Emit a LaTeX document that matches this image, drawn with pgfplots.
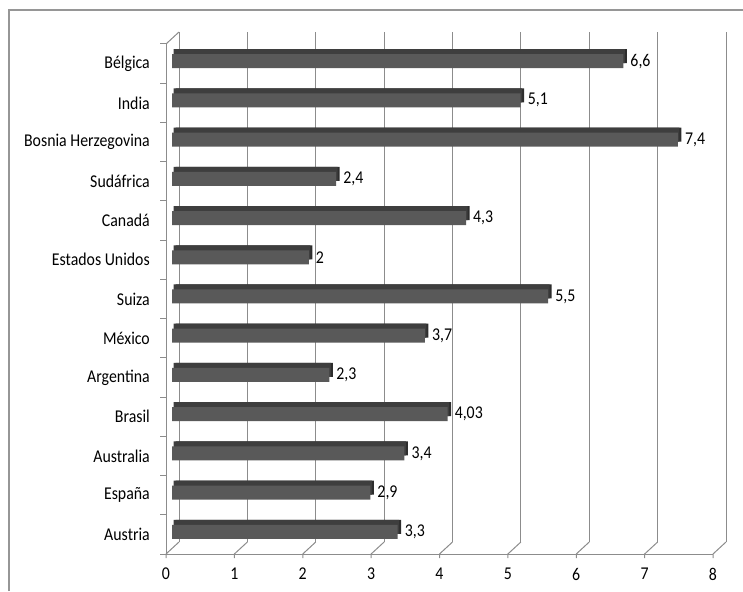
\documentclass[border=0pt]{standalone}
\usepackage{pgfplots}
\pgfplotsset{compat=1.18}
\usepackage{fontspec}
\setmainfont{Carlito}[FakeStretch=0.88]
\definecolor{gridc}{RGB}{140,140,140}
\definecolor{framec}{RGB}{150,150,150}
\definecolor{barf}{RGB}{89,89,89}
\definecolor{bard}{RGB}{62,62,62}
\definecolor{bare}{RGB}{45,45,45}
\newcommand{\lblfont}{\fontsize{18pt}{21pt}\selectfont}
\begin{document}
\begin{tikzpicture}[font=\lblfont]
\useasboundingbox (0,0) rectangle (743pt,591pt);
\draw[framec, line width=1.2pt] (9pt,0pt) -- (9pt,581pt) -- (743pt,581pt);
\begin{axis}[
  at={(179pt,49pt)}, anchor=south west,
  scale only axis, width=547pt, height=510pt,
  xmin=0, xmax=8, ymin=-0.5, ymax=12.5,
  clip=false,
  axis line style={draw=none},
  major tick length=0pt,
  xtick={0,...,8},
  ytick={0,...,12},
  yticklabels={Austria,España,Australia,Brasil,Argentina,México,Suiza,Estados Unidos,Canadá,Sudáfrica,Bosnia Herzegovina,India,Bélgica},
  xmajorgrids, grid style={gridc, line width=1pt},
  /pgf/number format/assume math mode=true,
  /pgf/number format/use comma,
  tick label style={font=\lblfont, inner sep=0pt},
  yticklabel style={anchor=east, xshift=-29pt, yshift=-12pt},
  xticklabel style={anchor=north, xshift=-13pt, yshift=-26pt},
]
% floor and left wall (front edges)
\draw[gridc, line width=1pt, shift={(-13pt,-12pt)}] (axis cs:0,-0.5) -- (axis cs:8,-0.5);
\draw[gridc, line width=1pt, shift={(-13pt,-12pt)}] (axis cs:0,-0.5) -- (axis cs:0,12.5);
\draw[gridc, line width=1pt] (axis cs:0,12.5) -- ++(-13pt,-12pt);
\pgfplotsinvokeforeach{0,...,8}{
  \draw[gridc, line width=1pt] (axis cs:#1,-0.5) -- ++(-13pt,-12pt) -- ++(0pt,-4pt);
}
\pgfplotsinvokeforeach{-0.5,0.5,...,12.5}{
  \draw[gridc, line width=1pt, shift={(-13pt,-12pt)}] (axis cs:0,#1) -- ++(-6pt,0pt);
}
% bar end faces
\addplot[xbar, bar shift=0pt, bar width=14pt, fill=bare, draw=none, xshift=-3.5pt, yshift=-4.5pt]
coordinates {(3.3,0) (2.9,1) (3.4,2) (4.03,3) (2.3,4) (3.7,5) (5.5,6) (2,7) (4.3,8) (2.4,9) (7.4,10) (5.1,11) (6.6,12)};
% bar top faces
\addplot[xbar, bar shift=0pt, bar width=14pt, fill=bard, draw=none, xshift=-5.5pt, yshift=-4.5pt]
coordinates {(3.3,0) (2.9,1) (3.4,2) (4.03,3) (2.3,4) (3.7,5) (5.5,6) (2,7) (4.3,8) (2.4,9) (7.4,10) (5.1,11) (6.6,12)};
% bar front faces with labels
\addplot[xbar, bar shift=0pt, bar width=14pt, fill=barf, draw=none, xshift=-7pt, yshift=-9.5pt,
  point meta=x, nodes near coords,
  nodes near coords style={anchor=west, inner sep=0pt, xshift=7pt, font=\lblfont, text=black}]
coordinates {(3.3,0) (2.9,1) (3.4,2) (4.03,3) (2.3,4) (3.7,5) (5.5,6) (2,7) (4.3,8) (2.4,9) (7.4,10) (5.1,11) (6.6,12)};
\end{axis}
\end{tikzpicture}
\end{document}
